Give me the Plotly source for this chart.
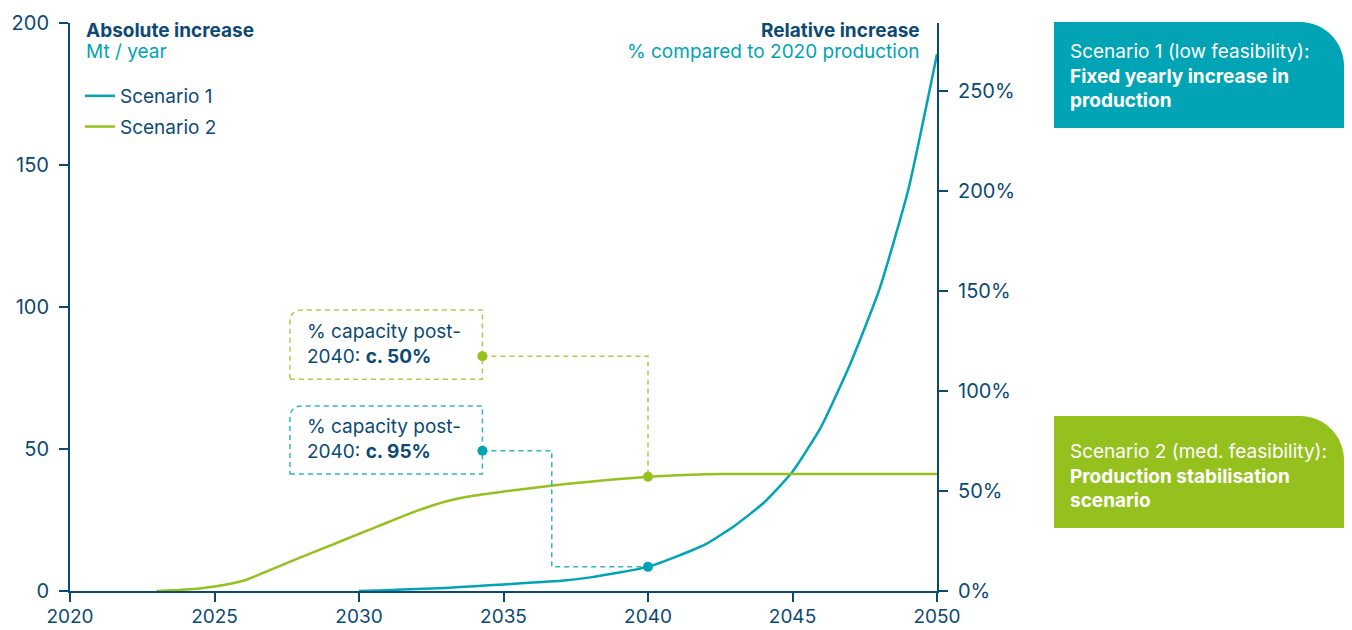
import plotly.graph_objects as go

# ---------------- data ----------------
years_s1 = list(range(2030, 2051))
scenario1 = [0, 0.3, 0.7, 1.1, 1.7, 2.3, 3.0, 3.6, 4.8, 6.5, 8.5, 12.2, 16.5, 23, 31, 42, 58, 80, 106, 141, 189]
years_s2 = list(range(2023, 2051))
scenario2 = [0, 0.5, 1.6, 3.6, 7.7, 11.9, 16.0, 20.1, 24.2, 28.2, 31.5, 33.6, 35.0, 36.3, 37.5,
             38.5, 39.4, 40.2, 40.8, 41.1, 41.2, 41.2, 41.2, 41.2, 41.2, 41.2, 41.2, 41.2]

x_ticks = [2020, 2025, 2030, 2035, 2040, 2045, 2050]
left_ticks = [0, 50, 100, 150, 200]
right_ticks = [0, 50, 100, 150, 200, 250]
right_labels = ["0%", "50%", "100%", "150%", "200%", "250%"]
right_range = [0, 284]

# annotation points (year, value)
s1_point = (2040, 8.5)
s2_point = (2040, 40.2)
label_x = 2034.27
s1_label_y = 49.4
s2_label_y = 82.7
s1_elbow_x = 2036.67

TEAL = "#00a4b4"
GREEN = "#95c11f"
NAVY = "#0c4a73"
FONT = "Inter"

# page shows the figure offset by the body margin (8px)
OFF = 8
W, H = 1352 - OFF, 630 - OFF
L, R, T, B = 70 - OFF, 415, 23 - OFF, 39
PW, PH = W - L - R, H - T - B
PLOT_LEFT_SCREEN = L + OFF
PLOT_BOTTOM_SCREEN = T + PH + OFF

def px(x):  # screen pixel x -> paper
    return (x - PLOT_LEFT_SCREEN) / PW

def py(y):  # screen pixel y -> paper
    return (PLOT_BOTTOM_SCREEN - y) / PH

fig = go.Figure()

# main lines
fig.add_trace(go.Scatter(x=years_s1, y=scenario1, mode="lines", name="Scenario 1", legendgroup="a",
                         line=dict(color=TEAL, width=2.5, shape="spline", smoothing=0.5), hoverinfo="x+y"))
fig.add_trace(go.Scatter(x=years_s2, y=scenario2, mode="lines", name="Scenario 2", legendgroup="b",
                         line=dict(color=GREEN, width=2.5, shape="spline", smoothing=0.5), hoverinfo="x+y"))

# dashed connectors
fig.add_trace(go.Scatter(x=[label_x, s1_elbow_x, s1_elbow_x, s1_point[0]],
                         y=[s1_label_y, s1_label_y, s1_point[1], s1_point[1]],
                         mode="lines", line=dict(color=TEAL, width=1.5, dash="5px,4px"),
                         opacity=0.8, showlegend=False, hoverinfo="skip"))
fig.add_trace(go.Scatter(x=[label_x, s2_point[0], s2_point[0]],
                         y=[s2_label_y, s2_label_y, s2_point[1]],
                         mode="lines", line=dict(color=GREEN, width=1.5, dash="5px,4px"),
                         opacity=0.8, showlegend=False, hoverinfo="skip"))
# dots
fig.add_trace(go.Scatter(x=[label_x, s1_point[0]], y=[s1_label_y, s1_point[1]], mode="markers",
                         marker=dict(color=TEAL, size=10), showlegend=False, hoverinfo="skip"))
fig.add_trace(go.Scatter(x=[label_x, s2_point[0]], y=[s2_label_y, s2_point[1]], mode="markers",
                         marker=dict(color=GREEN, size=10), showlegend=False, hoverinfo="skip"))

# invisible trace for the right axis
fig.add_trace(go.Scatter(x=[2020, 2050], y=right_range, yaxis="y2", mode="lines",
                         line=dict(width=0, color="rgba(0,0,0,0)"), showlegend=False, hoverinfo="skip"))

shapes = []

def rounded_box_data(x0, x1, y0, y1, color):
    rx = 12 / (PW / 30)
    ry = 12 / (PH / 200)
    path = (f"M {x0},{y0} L {x1},{y0} L {x1},{y1} L {x0+rx},{y1} "
            f"Q {x0},{y1} {x0},{y1-ry} Z")
    return dict(type="path", path=path, xref="x", yref="y",
                line=dict(color=color, width=1.5, dash="5px,4px"), opacity=0.8, layer="below")

shapes.append(rounded_box_data(2027.61, label_x, 74.6, 98.9, GREEN))
shapes.append(rounded_box_data(2027.61, label_x, 41.2, 65.1, TEAL))

def rounded_box_paper(x0p, x1p, y0p, y1p, color):
    x0, x1, y0, y1 = px(x0p), px(x1p), py(y1p), py(y0p)
    rx = 44 / PW
    ry = 44 / PH
    path = (f"M {x0},{y0} L {x1},{y0} L {x1},{y1-ry} "
            f"C {x1},{y1-ry*0.45} {x1-rx*0.45},{y1} {x1-rx},{y1} L {x0},{y1} Z")
    return dict(type="path", path=path, xref="paper", yref="paper",
                fillcolor=color, line=dict(width=0))

shapes.append(rounded_box_paper(1054, 1344, 22, 128, TEAL))
shapes.append(rounded_box_paper(1054, 1344, 416, 528, GREEN))

TS = 19
annotations = [
    dict(x=px(84), y=py(30), xref="paper", yref="paper", xanchor="left", yanchor="middle",
         text="<b>Absolute increase</b>", showarrow=False, font=dict(size=TS, color=NAVY, family=FONT)),
    dict(x=px(84), y=py(52), xref="paper", yref="paper", xanchor="left", yanchor="middle",
         text="Mt / year", showarrow=False, font=dict(size=TS, color=TEAL, family=FONT)),
    dict(x=px(922), y=py(30), xref="paper", yref="paper", xanchor="right", yanchor="middle",
         text="<b>Relative increase</b>", showarrow=False, font=dict(size=TS, color=NAVY, family=FONT)),
    dict(x=px(922), y=py(52), xref="paper", yref="paper", xanchor="right", yanchor="middle",
         text="% compared to 2020 production", showarrow=False, font=dict(size=TS, color=TEAL, family=FONT)),
    dict(x=2028.13, y=87.0, xref="x", yref="y", xanchor="left", yanchor="middle", align="left",
         text="% capacity post-<br>2040: <b>c. 50%</b>", showarrow=False,
         font=dict(size=TS, color=NAVY, family=FONT)),
    dict(x=2028.13, y=53.6, xref="x", yref="y", xanchor="left", yanchor="middle", align="left",
         text="% capacity post-<br>2040: <b>c. 95%</b>", showarrow=False,
         font=dict(size=TS, color=NAVY, family=FONT)),
    dict(x=px(1068), y=py(76), xref="paper", yref="paper", xanchor="left", yanchor="middle", align="left",
         text="Scenario 1 (low feasibility):<br><b>Fixed yearly increase in<br>production</b>",
         showarrow=False, font=dict(size=TS, color="white", family=FONT)),
    dict(x=px(1068), y=py(476), xref="paper", yref="paper", xanchor="left", yanchor="middle", align="left",
         text="Scenario 2 (med. feasibility):<br><b>Production stabilisation<br>scenario</b>",
         showarrow=False, font=dict(size=TS, color="white", family=FONT)),
]

axis_common = dict(showgrid=False, zeroline=False, showline=True, linecolor=NAVY, linewidth=2,
                   ticks="outside", ticklen=9, tickcolor=NAVY, tickwidth=2)
tickfont_y = dict(size=20, color=NAVY, family=FONT)
tickfont_x = dict(size=19, color=NAVY, family=FONT)

fig.update_layout(
    width=W, height=H,
    margin=dict(l=L, r=R, t=T, b=B, autoexpand=False),
    paper_bgcolor="white", plot_bgcolor="white",
    font=dict(family=FONT, color=NAVY, size=TS),
    showlegend=True,
    legend=dict(x=px(80), y=py(77), xanchor="left", yanchor="top", bgcolor="rgba(0,0,0,0)",
                font=dict(size=TS, color=NAVY, family=FONT), tracegroupgap=3, itemwidth=30),
    xaxis=dict(range=[2020, 2050], tickvals=x_ticks, ticklabelstandoff=-2, tickfont=tickfont_x,
               **axis_common),
    yaxis=dict(range=[0, 200], tickvals=left_ticks, ticklabelstandoff=6, tickfont=tickfont_y,
               **axis_common),
    yaxis2=dict(range=right_range, tickvals=right_ticks, ticktext=right_labels, overlaying="y",
                side="right", ticklabelstandoff=6, tickfont=tickfont_y, **axis_common),
    shapes=shapes,
    annotations=annotations,
)

fig.write_html("out.html")
